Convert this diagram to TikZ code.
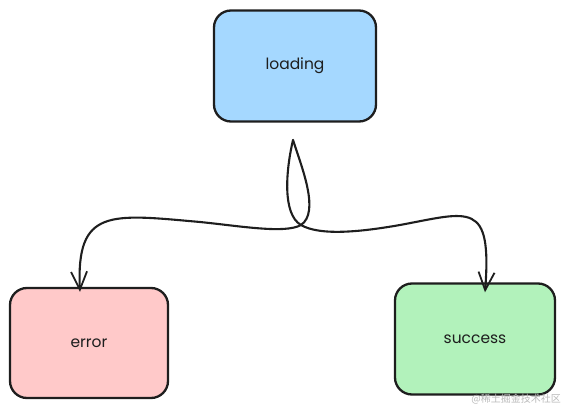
\documentclass[tikz,border=0pt]{standalone}
\usepackage{fontspec}
\setmainfont{Poppins}
\newfontfamily\cjk{Noto Sans CJK SC}
\usetikzlibrary{arrows.meta}
\definecolor{ink}{HTML}{1E1E1E}
\definecolor{blue1}{HTML}{A5D8FF}
\definecolor{red1}{HTML}{FFC9C9}
\definecolor{green1}{HTML}{B2F2BB}
\tikzset{
  statebox/.style={draw=ink, line width=2.3pt, rounded corners=17pt, inner sep=0pt, font=\fontsize{15.5}{18}\selectfont, text=ink},
  flow/.style={draw=ink, line width=2.1pt, line cap=round, -{Straight Barb[length=18pt,width=16pt,line width=1.8pt]}}
}
\begin{document}
\begin{tikzpicture}[x=1pt,y=-1pt]
\useasboundingbox (0,0) rectangle (565,409);
\node[statebox, fill=blue1, minimum width=162pt, minimum height=111pt] (loading) at (295,66) {loading};
\node[statebox, fill=red1, minimum width=158pt, minimum height=110pt] (error) at (89,343) {error};
\node[statebox, fill=green1, minimum width=160pt, minimum height=111pt] (success) at (475,339) {success};
\coordinate (fork) at (293,140);
\coordinate (cross) at (301,225);
\draw[flow] (fork) .. controls (302,168) and (320,212) .. (cross)
  .. controls (285,234) and (240,226) .. (200,222)
  .. controls (110,214) and (76,208) .. ([xshift=-9pt,yshift=-5pt]error.north);
\draw[flow] (fork) .. controls (286,170) and (282,214) .. (cross)
  .. controls (320,236) and (360,232) .. (400,225)
  .. controls (470,212) and (492,200) .. ([xshift=10pt,yshift=-10pt]success.north);
\node[anchor=south east, text=gray!55, font=\cjk\fontsize{10}{12}\selectfont, inner sep=0pt] (mark) at (561,404) {@稀土掘金技术社区};
\end{tikzpicture}
\end{document}
